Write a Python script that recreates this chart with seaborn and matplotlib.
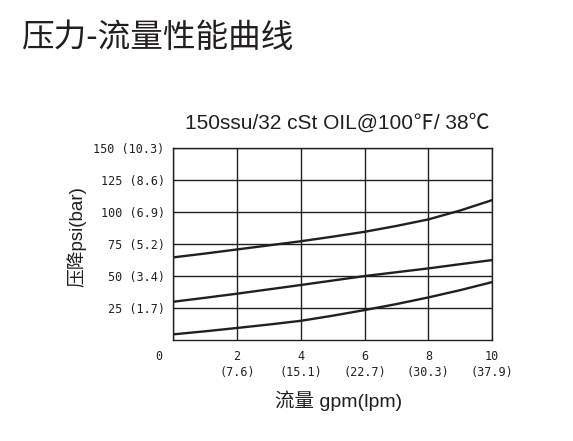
import pandas as pd
import matplotlib.pyplot as plt
import matplotlib.transforms as mtransforms
import seaborn as sns

# flow (gpm) and pressure drop (psi)
flow = [0, 1, 2, 3, 4, 5, 6, 7, 8, 9, 10]
curve_high = [64.6, 67.6, 70.8, 74.0, 77.2, 80.8, 84.6, 89.2, 94.3, 101.3, 109.4]
curve_mid = [29.9, 33.0, 36.2, 39.6, 43.0, 46.5, 50.0, 53.0, 56.0, 59.3, 62.5]
curve_low = [4.4, 6.8, 9.4, 12.1, 15.0, 19.0, 23.4, 28.1, 33.3, 39.0, 45.3]

x_ticks = [0, 2, 4, 6, 8, 10]
x_labels = ["0", "2\n(7.6)", "4\n(15.1)", "6\n(22.7)", "8\n(30.3)", "10\n(37.9)"]
y_ticks = [25, 50, 75, 100, 125, 150]
y_labels = ["25 (1.7)", "50 (3.4)", "75 (5.2)", "100 (6.9)", "125 (8.6)", "150 (10.3)"]

df = pd.DataFrame({
    "flow": flow * 3,
    "psi": curve_high + curve_mid + curve_low,
    "curve": ["high"] * 11 + ["mid"] * 11 + ["low"] * 11,
})

sns.set_style("white")
plt.rcParams["font.family"] = ["Liberation Sans", "Noto Sans CJK SC", "DejaVu Sans"]
ink = "#231f20"

fig = plt.figure(figsize=(5.73, 4.41), dpi=100)
ax = fig.add_axes([0.302, 0.229, 0.557, 0.435])

sns.lineplot(data=df, x="flow", y="psi", hue="curve",
             palette=[ink, ink, ink], linewidth=1.7, legend=False, ax=ax)

ax.set_xlim(0, 10)
ax.set_ylim(0, 150)
ax.set_xticks(x_ticks)
ax.set_xticklabels(x_labels, family="DejaVu Sans Mono", fontsize=8.5, color=ink)
ax.set_yticks(y_ticks)
ax.set_yticklabels(y_labels, family="DejaVu Sans Mono", fontsize=8.5, color=ink)
ax.tick_params(axis="x", length=0, pad=7)
ax.tick_params(axis="y", length=3, width=1, color=ink, pad=3)
for lab in ax.get_xticklabels():
    lab.set_linespacing(1.35)
# origin label sits left of the axis corner
first = ax.get_xticklabels()[0]
first.set_transform(first.get_transform() + mtransforms.ScaledTranslation(-14 / 100, 0, fig.dpi_scale_trans))

ax.grid(True, color=ink, linewidth=1)
for s in ax.spines.values():
    s.set_color(ink)
    s.set_linewidth(1)
ax.set_xlabel("")
ax.set_ylabel("")

fig.text(0.038, 0.914, "压力-流量性能曲线", fontsize=23.5, color=ink, weight="medium",
         family=["Noto Sans CJK SC"], va="center", ha="left")
fig.text(0.589, 0.721, "150ssu/32 cSt OIL@100℉/ 38℃", fontsize=15, color=ink,
         ha="center", va="center")
fig.text(0.133, 0.464, "压降psi(bar)", fontsize=13.5, color=ink,
         rotation=90, ha="center", va="center")
fig.text(0.590, 0.091, "流量 gpm(lpm)", fontsize=14, color=ink,
         ha="center", va="center")

fig.savefig("out.png", dpi=100)
